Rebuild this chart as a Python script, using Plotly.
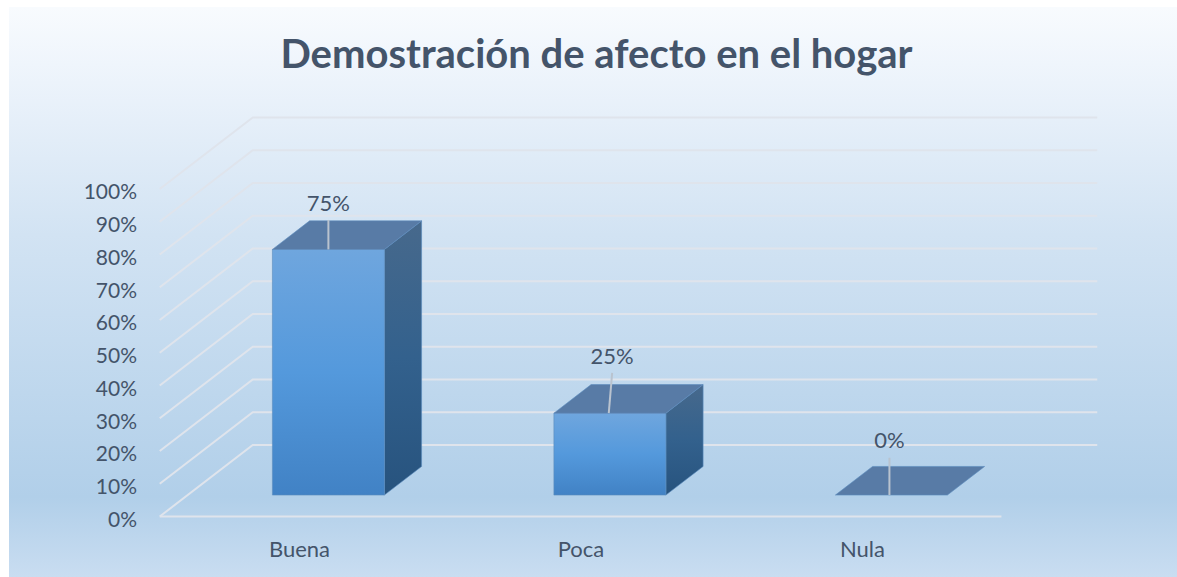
import base64
import plotly.graph_objects as go

# data
categories = ['Buena', 'Poca', 'Nula']
values = [75, 25, 0]
y_ticks = [0, 10, 20, 30, 40, 50, 60, 70, 80, 90, 100]
label_rise = [13.5, 16.8, 15.9]
label_lean = [0, 0.012, 0]
label_nudge = [0, -0.004, -0.007]

TITLE = 'Demostración de afecto en el hogar'
FONT = 'Lato'
TEXT_COLOR = '#44546a'
GRID_COLOR = '#dfe4ec'

# chart geometry in pixels
W, H = 1177, 577
PLOT_L, PLOT_R, PLOT_T, PLOT_B = 143, 1110, 100, 530
X_ZERO, X_STEP = 300.5, 281.5
Y_ZERO, Y_STEP = 516.5, 3.275

# oblique projection, in axis units
DEPTH_X = 93 / X_STEP
DEPTH_Y = 71.5 / Y_STEP
BAR_WIDTH = 112 / X_STEP
BAR_NEAR = 0.30
BAR_FAR = 0.70


def project(x, y, depth):
    return x + depth * DEPTH_X, y + depth * DEPTH_Y


def face(points):
    xs, ys = zip(*[project(*p) for p in points])
    return list(xs) + [xs[0]], list(ys) + [ys[0]]


def add_face(fig, points, colors):
    xs, ys = face(points)
    style = dict(fillcolor=colors[0]) if len(colors) == 1 else dict(
        fillgradient=dict(type='vertical', colorscale=[[i / (len(colors) - 1), c] for i, c in enumerate(colors)])
    )
    fig.add_trace(go.Scatter(x=xs, y=ys, mode='lines', fill='toself',
                             line=dict(color='rgba(91,140,190,0.6)', width=1), **style))


fig = go.Figure()

# walls: left side and back gridlines
grid_x, grid_y = [], []
for t in y_ticks:
    for p in [project(-0.5, t, 0), project(-0.5, t, 1), project(2.5, t, 1)]:
        grid_x.append(p[0])
        grid_y.append(p[1])
    grid_x.append(None)
    grid_y.append(None)
fig.add_trace(go.Scatter(x=grid_x, y=grid_y, mode='lines', line=dict(color=GRID_COLOR, width=2)))
fig.add_trace(go.Scatter(x=[-0.5, 2.49], y=[0, 0], mode='lines', line=dict(color=GRID_COLOR, width=2)))

# bars
lead_x, lead_y, label_x, label_y = [], [], [], []
for i, v in enumerate(values):
    x0, x1 = i - BAR_WIDTH / 2, i + BAR_WIDTH / 2
    if v > 0:
        add_face(fig, [(x1, 0, BAR_NEAR), (x1, 0, BAR_FAR), (x1, v, BAR_FAR), (x1, v, BAR_NEAR)],
                 ['#27537e', '#33618d', '#47698c'])
        add_face(fig, [(x0, 0, BAR_NEAR), (x1, 0, BAR_NEAR), (x1, v, BAR_NEAR), (x0, v, BAR_NEAR)],
                 ['#4182c5', '#5499dc', '#6fa6de'])
    add_face(fig, [(x0, v, BAR_NEAR), (x1, v, BAR_NEAR), (x1, v, BAR_FAR), (x0, v, BAR_FAR)], ['#587ba6'])

    bx, by = project(i + label_nudge[i], v, BAR_NEAR)
    lead_x += [bx, bx + label_lean[i], None]
    lead_y += [by, by + label_rise[i] - 4.5, None]
    label_x.append(bx + label_lean[i])
    label_y.append(by + label_rise[i])

fig.add_trace(go.Scatter(x=lead_x, y=lead_y, mode='lines', line=dict(color='#b9c3cf', width=2)))
fig.add_trace(go.Scatter(x=label_x, y=label_y, mode='text', text=[f'{v}%' for v in values],
                         textposition='middle center', textfont=dict(family=FONT, size=22, color=TEXT_COLOR)))

# chart area background: banded vertical gradient
svg = f'''<svg xmlns="http://www.w3.org/2000/svg" width="{W}" height="{H}">
<defs><linearGradient id="g" x1="0" y1="0" x2="0" y2="1">
<stop offset="0" stop-color="#f8fbfe"/><stop offset="0.1" stop-color="#eff5fc"/>
<stop offset="0.4" stop-color="#d2e3f3"/><stop offset="0.86" stop-color="#b1cfe9"/>
<stop offset="1" stop-color="#c9ddf1"/></linearGradient></defs>
<rect width="{W}" height="{H}" fill="#ffffff"/>
<rect x="9" y="7" width="{W - 9}" height="{H - 7}" fill="url(#g)"/></svg>'''
plot_w, plot_h = PLOT_R - PLOT_L, PLOT_B - PLOT_T
fig.add_layout_image(
    source='data:image/svg+xml;base64,' + base64.b64encode(svg.encode()).decode(),
    xref='paper', yref='paper', x=-PLOT_L / plot_w, y=1 + PLOT_T / plot_h,
    sizex=W / plot_w, sizey=H / plot_h, xanchor='left', yanchor='top', sizing='stretch', layer='below',
)

fig.update_layout(
    width=W, height=H,
    margin=dict(l=PLOT_L, r=W - PLOT_R, t=PLOT_T, b=H - PLOT_B, pad=0),
    paper_bgcolor='white', plot_bgcolor='rgba(0,0,0,0)',
    showlegend=False,
    hovermode=False,
    title=dict(text=f'<b>{TITLE}</b>', x=596.5 / W, xanchor='center', xref='container',
               y=1 - 54 / H, yanchor='middle', font=dict(family=FONT, size=40, color=TEXT_COLOR)),
    xaxis=dict(range=[(PLOT_L - X_ZERO) / X_STEP, (PLOT_R - X_ZERO) / X_STEP],
               tickvals=list(range(len(categories))), ticktext=categories,
               showgrid=False, zeroline=False, showline=False, ticks='',
               ticklabelstandoff=4, ticklabelshift=-1,
               tickfont=dict(family=FONT, size=22, color=TEXT_COLOR)),
    yaxis=dict(range=[(Y_ZERO - PLOT_B) / Y_STEP, (Y_ZERO - PLOT_T) / Y_STEP],
               tickvals=y_ticks, ticktext=[f'{t}%' for t in y_ticks],
               showgrid=False, zeroline=False, showline=False, ticks='',
               ticklabelstandoff=5, ticklabelshift=3,
               tickfont=dict(family=FONT, size=21, color=TEXT_COLOR)),
)

fig.write_html('out.html', config={'displayModeBar': False}, post_script="document.body.style.margin='0';")
